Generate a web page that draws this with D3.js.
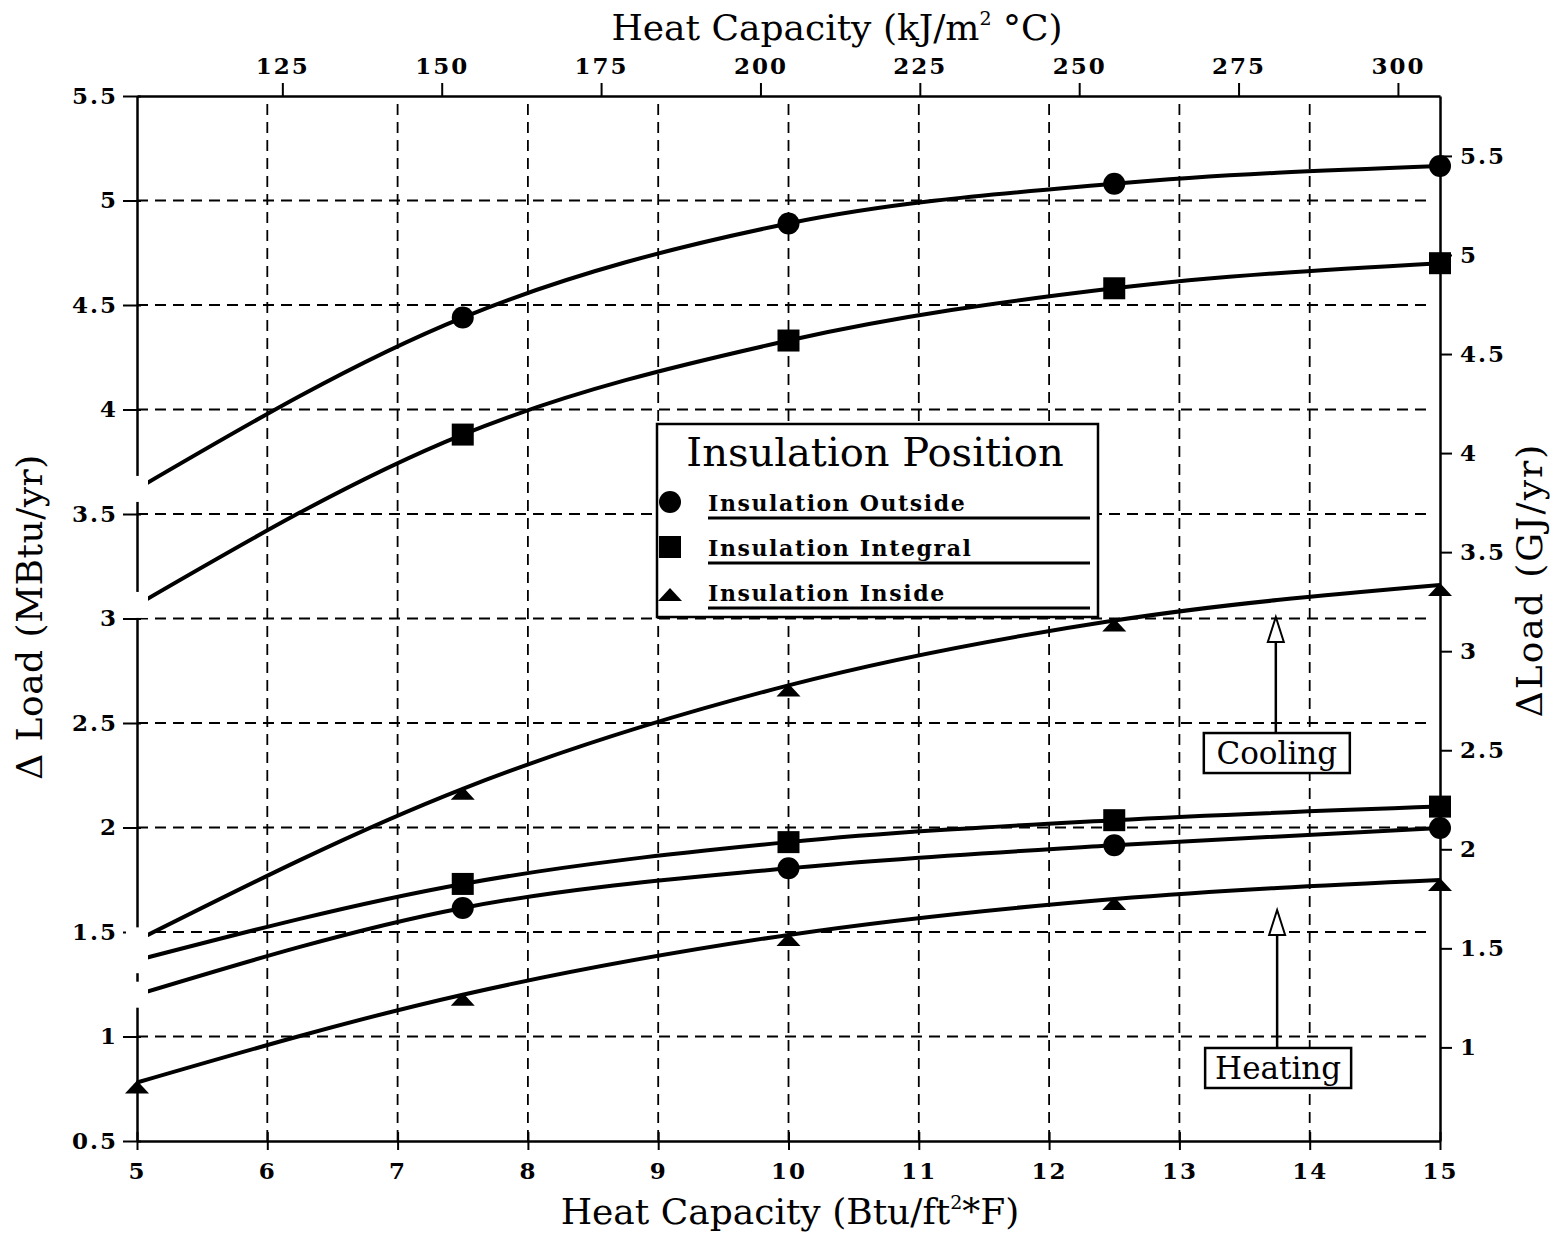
<!DOCTYPE html>
<html>
<head>
<meta charset="utf-8">
<script src="https://cdn.jsdelivr.net/npm/d3@7"></script>
<style>
  body { margin: 0; background: #fff; }
  svg text { font-family: "DejaVu Serif", serif; fill: #000; }
  .tick text { font-weight: bold; font-size: 23px; letter-spacing: 2px; }
</style>
</head>
<body>
<svg id="chart" width="1558" height="1237"></svg>
<script>
// heat capacity (Btu/ft2*F) where the curves are evaluated
var capacity = [5, 7.5, 10, 12.5, 15];

// delta load in MBtu/yr
var coolOutside  = [3.62, 4.44, 4.89, 5.08, 5.165];
var coolIntegral = [3.065, 3.88, 4.33, 4.58, 4.70];
var coolInside   = [1.46, 2.185, 2.68, 2.99, 3.16];
var heatIntegral = [1.365, 1.73, 1.93, 2.035, 2.10];
var heatOutside  = [1.20, 1.615, 1.805, 1.915, 1.998];
var heatInside   = [0.78, 1.20, 1.486, 1.658, 1.749];

var bottomTicks = [5, 6, 7, 8, 9, 10, 11, 12, 13, 14, 15];
var leftTicks = [0.5, 1, 1.5, 2, 2.5, 3, 3.5, 4, 4.5, 5, 5.5];
var topTicks = [125, 150, 175, 200, 225, 250, 275, 300];
var rightTicks = [1, 1.5, 2, 2.5, 3, 3.5, 4, 4.5, 5, 5.5];

var legendNames = ["Insulation Outside", "Insulation Integral", "Insulation Inside"];

var KJ_PER_BTU = 20.44;  // Btu/ft2F -> kJ/m2C
var GJ_PER_MBTU = 1.055;

var svg = d3.select("#chart"),
    margin = {top: 96, right: 118, bottom: 96, left: 137},
    width = +svg.attr("width") - margin.left - margin.right,
    height = +svg.attr("height") - margin.top - margin.bottom;

var x = d3.scaleLinear().domain([5, 15]).range([0, width]);
var y = d3.scaleLinear().domain([0.5, 5.5]).range([height, 0]);
var xTop = d3.scaleLinear().domain([5 * KJ_PER_BTU, 15 * KJ_PER_BTU]).range([0, width]);
var yRight = d3.scaleLinear().domain([0.5 * GJ_PER_MBTU, 5.5 * GJ_PER_MBTU]).range([height, 0]);

var g = svg.append("g")
    .attr("transform", "translate(" + margin.left + "," + margin.top + ")");

// dashed grid
g.selectAll(".vgrid")
  .data(bottomTicks.slice(1, -1))
  .enter().append("line")
    .attr("x1", d => x(d)).attr("x2", d => x(d))
    .attr("y1", 8).attr("y2", height)
    .attr("stroke", "#000").attr("stroke-width", 1.8)
    .attr("stroke-dasharray", "11,7");

g.selectAll(".hgrid")
  .data(leftTicks.slice(1, -1))
  .enter().append("line")
    .attr("x1", 0).attr("x2", width - 8)
    .attr("y1", d => y(d)).attr("y2", d => y(d))
    .attr("stroke", "#000").attr("stroke-width", 1.8)
    .attr("stroke-dasharray", "11,7");

// axes
var fmt = d3.format("");
var axB = g.append("g").attr("transform", "translate(0," + height + ")")
  .call(d3.axisBottom(x).tickValues(bottomTicks).tickFormat(fmt).tickSizeInner(9).tickSizeOuter(0).tickPadding(13));
axB.selectAll(".tick line").attr("y1", -9);

var axL = g.append("g")
  .call(d3.axisLeft(y).tickValues(leftTicks).tickFormat(fmt).tickSizeInner(14).tickSizeOuter(0).tickPadding(5));
axL.selectAll(".tick line").attr("x1", 4);

var axT = g.append("g")
  .call(d3.axisTop(xTop).tickValues(topTicks).tickFormat(fmt).tickSizeInner(13).tickSizeOuter(0).tickPadding(9));

var axR = g.append("g").attr("transform", "translate(" + width + ",0)")
  .call(d3.axisRight(yRight).tickValues(rightTicks).tickFormat(fmt).tickSizeInner(12).tickSizeOuter(0).tickPadding(8));

g.selectAll(".domain").attr("stroke-width", 2.5);
g.selectAll(".tick line").attr("stroke-width", 2);
g.selectAll(".tick text").attr("font-family", null).attr("font-size", null);

// curves
var series = [
  {values: coolOutside, mark: "circle"},
  {values: coolIntegral, mark: "square"},
  {values: coolInside, mark: "triangle"},
  {values: heatIntegral, mark: "square"},
  {values: heatOutside, mark: "circle"},
  {values: heatInside, mark: "triangle", markFirst: true}
];

var line = d3.line()
  .x(d => x(d[0]))
  .y(d => y(d[1]))
  .curve(d3.curveMonotoneX);

series.forEach(function(s) {
  var pts = capacity.map((c, i) => [c, s.values[i]]);
  g.append("path")
    .datum(pts)
    .attr("d", line)
    .attr("fill", "none")
    .attr("stroke", "#000")
    .attr("stroke-width", 4);
});

// knock-outs at the first point (the plotter erased the axis there)
series.filter(s => !s.markFirst).forEach(function(s) {
  g.append("rect")
    .attr("x", x(capacity[0]) - 11)
    .attr("y", y(s.values[0]) - 13)
    .attr("width", 22).attr("height", 26)
    .attr("fill", "#fff");
});

function drawMark(sel, kind, cx, cy) {
  if (kind === "circle") {
    sel.append("circle").attr("cx", cx).attr("cy", cy).attr("r", 11).attr("fill", "#000");
  } else if (kind === "square") {
    sel.append("rect").attr("x", cx - 11).attr("y", cy - 11).attr("width", 22).attr("height", 22).attr("fill", "#000");
  } else {
    sel.append("path")
      .attr("d", "M" + cx + "," + (cy - 2) + "L" + (cx + 12) + "," + (cy + 11) + "L" + (cx - 12) + "," + (cy + 11) + "Z")
      .attr("fill", "#000");
  }
}

series.forEach(function(s) {
  capacity.forEach(function(c, i) {
    if (i === 0 && !s.markFirst) return;
    drawMark(g, s.mark, x(c), y(s.values[i]));
  });
});

// axis titles
svg.append("text")
  .attr("x", 837).attr("y", 40)
  .attr("text-anchor", "middle")
  .attr("font-size", 36)
  .html('Heat Capacity (kJ/m<tspan font-size="19" dy="-15">2</tspan><tspan dy="15"> °C)</tspan>');

svg.append("text")
  .attr("x", 790).attr("y", 1224)
  .attr("text-anchor", "middle")
  .attr("font-size", 36)
  .html('Heat Capacity (Btu/ft<tspan font-size="19" dy="-15">2</tspan><tspan dy="15">*F)</tspan>');

svg.append("text")
  .attr("transform", "translate(42,617) rotate(-90)")
  .attr("text-anchor", "middle")
  .attr("font-size", 36)
  .attr("letter-spacing", 0.5)
  .text("Δ Load (MBtu/yr)");

svg.append("text")
  .attr("transform", "translate(1542,580) rotate(-90)")
  .attr("text-anchor", "middle")
  .attr("font-size", 36)
  .attr("letter-spacing", 2)
  .text("ΔLoad (GJ/yr)");

// legend
var lg = g.append("g").attr("transform", "translate(" + (657 - margin.left) + "," + (424 - margin.top) + ")");
lg.append("rect").attr("width", 441).attr("height", 193)
  .attr("fill", "#fff").attr("stroke", "#000").attr("stroke-width", 2.5);
lg.append("text").attr("x", 218).attr("y", 42)
  .attr("text-anchor", "middle").attr("font-size", 40)
  .text("Insulation Position");
var legendMarks = ["circle", "square", "triangle"];
legendNames.forEach(function(name, i) {
  var yy = 78 + i * 45;
  drawMark(lg, legendMarks[i], 13, i === 2 ? yy - 2 : yy);
  lg.append("text").attr("x", 51).attr("y", yy + 9)
    .attr("font-size", 22).attr("font-weight", "bold").attr("letter-spacing", 1.6)
    .text(name);
  lg.append("line").attr("x1", 51).attr("x2", 433)
    .attr("y1", yy + 16).attr("y2", yy + 16)
    .attr("stroke", "#000").attr("stroke-width", 3);
});

// Cooling / Heating callouts
var callouts = [
  {label: "Cooling", xv: 13.74, tip: 3.007, box: 2.452},
  {label: "Heating", xv: 13.75, tip: 1.605, box: 0.945}
];
callouts.forEach(function(c) {
  var cx = x(c.xv), ty = y(c.tip), by = y(c.box);
  g.append("line").attr("x1", cx).attr("x2", cx).attr("y1", ty + 24).attr("y2", by)
    .attr("stroke", "#000").attr("stroke-width", 2.5);
  g.append("path")
    .attr("d", "M" + cx + "," + ty + "L" + (cx + 8) + "," + (ty + 25) + "L" + (cx - 8) + "," + (ty + 25) + "Z")
    .attr("fill", "#fff").attr("stroke", "#000").attr("stroke-width", 2);
  g.append("rect").attr("x", cx - 72).attr("y", by).attr("width", 146).attr("height", 40)
    .attr("fill", "#fff").attr("stroke", "#000").attr("stroke-width", 2.5);
  g.append("text").attr("x", cx + 1).attr("y", by + 31)
    .attr("text-anchor", "middle").attr("font-size", 31)
    .text(c.label);
});
</script>
</body>
</html>
